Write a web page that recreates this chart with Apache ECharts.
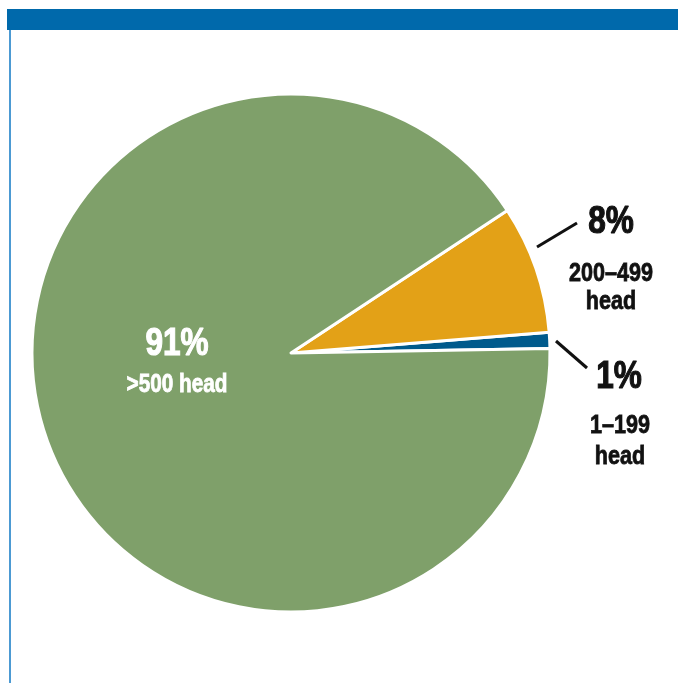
<!DOCTYPE html>
<html>
<head>
<meta charset="utf-8">
<script src="https://cdn.jsdelivr.net/npm/echarts@6/dist/echarts.min.js"></script>
<style>
html,body{margin:0;padding:0;background:#fff;}
#chart{width:678px;height:683px;}
</style>
</head>
<body>
<div id="chart"></div>
<script>
const ranges = ['1–199', '200–499', '>500'];
const unit = 'head';
const shares = [1, 8, 91];
const sliceColors = ['#005a8c', '#e3a117', '#7fa06a'];

const FONT = "'Liberation Sans', Arial, sans-serif";
const SX = 0.83;

const chart = echarts.init(document.getElementById('chart'), null, {renderer: 'canvas'});

// label layout (positions only)
const pctPos = [[619, 378], [611, 223], [177, 345]];
const subPos = [
  [[620, 426], [620, 457]],
  [[611, 274], [611, 302]],
  [[177, 385]]
];
const leaderPts = [
  [[556, 341], [587, 368]],
  [[537, 247], [577, 223]],
  null
];

const graphics = [
  {type: 'rect', shape: {x: 7, y: 9, width: 671, height: 21}, style: {fill: '#0069ab'}, silent: true, z: 10},
  {type: 'rect', shape: {x: 9, y: 30, width: 2, height: 653}, style: {fill: '#4c9ad3'}, silent: true, z: 10}
];

shares.forEach((v, i) => {
  const big = i === 2;
  const col = big ? '#ffffff' : '#111111';
  graphics.push({
    type: 'text', x: pctPos[i][0], y: pctPos[i][1], scaleX: SX, z: 20, silent: true,
    style: {text: v + '%', fill: col, stroke: col, lineWidth: 1.2, font: 'bold 38px ' + FONT, textAlign: 'center', textVerticalAlign: 'middle'}
  });
  const lines = big ? [ranges[i] + ' ' + unit] : [ranges[i], unit];
  lines.forEach((t, k) => {
    graphics.push({
      type: 'text', x: subPos[i][k][0], y: subPos[i][k][1], scaleX: SX, z: 20, silent: true,
      style: {text: t, fill: col, stroke: col, lineWidth: 0.8, font: 'bold ' + (big ? 25 : 26) + 'px ' + FONT, textAlign: 'center', textVerticalAlign: 'middle'}
    });
  });
  if (leaderPts[i]) {
    graphics.push({
      type: 'polyline', z: 20, silent: true,
      shape: {points: leaderPts[i]},
      style: {stroke: '#111111', lineWidth: 3, fill: null}
    });
  }
});

chart.setOption({
  animation: false,
  backgroundColor: '#ffffff',
  graphic: graphics,
  series: [{
    type: 'pie',
    center: [291, 353],
    radius: [0, 259],
    startAngle: 1,
    clockwise: false,
    label: {show: false},
    labelLine: {show: false},
    itemStyle: {borderColor: '#ffffff', borderWidth: 3},
    emphasis: {disabled: true},
    data: shares.map((v, i) => ({
      name: ranges[i] + ' ' + unit,
      value: v,
      itemStyle: {color: sliceColors[i]}
    }))
  }]
});
</script>
</body>
</html>
